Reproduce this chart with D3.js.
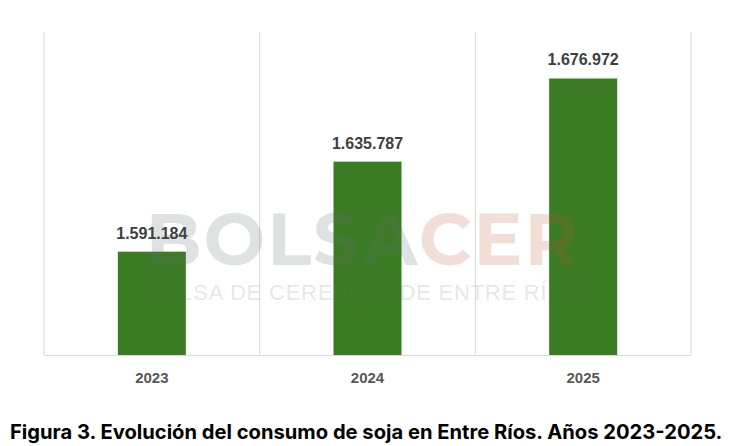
<!DOCTYPE html>
<html>
<head>
<meta charset="utf-8">
<script src="https://cdn.jsdelivr.net/npm/d3@7"></script>
<style>
html,body{margin:0;padding:0;background:#fff;}
svg{display:block;}
</style>
</head>
<body>
<svg id="chart" width="737" height="446"></svg>
<script>
const years = ["2023", "2024", "2025"];
const consumo = [1591184, 1635787, 1676972];
const yDomain = [1540000, 1700000];
const titleText = "Figura 3. Evolución del consumo de soja en Entre Ríos. Años 2023-2025.";

const svg = d3.select("#chart");
const m = {left: 44, right: 46, top: 32, bottom: 91};
const W = 737, H = 446;
const x = d3.scaleBand().domain(years).range([m.left, W - m.right]).paddingInner(0).paddingOuter(0);
const y = d3.scaleLinear().domain(yDomain).range([H - m.bottom, m.top]);
const fmt = v => d3.format(",")(v).replace(/,/g, ".");
const barW = 68;

// vertical gridlines at category boundaries
const bounds = years.map(d => x(d)).concat([x(years[years.length-1]) + x.bandwidth()]);
svg.append("g").selectAll("line").data(bounds).join("line")
  .attr("x1", d => d).attr("x2", d => d)
  .attr("y1", m.top).attr("y2", H - m.bottom)
  .attr("stroke", "#d9d9d9").attr("stroke-width", 1);
// baseline
svg.append("line").attr("x1", m.left).attr("x2", W - m.right)
  .attr("y1", H - m.bottom + 0.5).attr("y2", H - m.bottom + 0.5)
  .attr("stroke", "#d9d9d9").attr("stroke-width", 1);

// bars
svg.append("g").selectAll("rect").data(consumo).join("rect")
  .attr("x", (d, i) => x(years[i]) + x.bandwidth()/2 - barW/2)
  .attr("width", barW)
  .attr("y", d => y(d))
  .attr("height", d => y(yDomain[0]) - y(d))
  .attr("fill", "#3b7b24");

// watermark
const wm = svg.append("g").attr("pointer-events", "none");
const big = wm.append("text").attr("x", 363).attr("y", 265)
  .attr("text-anchor", "middle")
  .attr("font-family", "Montserrat, 'Liberation Sans', Arial, sans-serif")
  .attr("font-weight", "bold").attr("font-size", 73)
  .attr("letter-spacing", 2);
big.append("tspan").text("BOLSA").attr("fill", "#5f7070").attr("fill-opacity", 0.2);
big.append("tspan").text("CER").attr("fill", "#b25b37").attr("fill-opacity", 0.2);
wm.append("text").attr("x", 147).attr("y", 300)
  .attr("font-family", "'Liberation Sans', Arial, sans-serif")
  .attr("font-size", 22)
  .attr("textLength", 433).attr("lengthAdjust", "spacing")
  .attr("fill", "#5f7070").attr("fill-opacity", 0.18)
  .text("BOLSA DE CEREALES DE ENTRE RÍOS");

// value labels
svg.append("g").selectAll("text").data(consumo).join("text")
  .attr("x", (d, i) => x(years[i]) + x.bandwidth()/2)
  .attr("y", d => y(d) - 13)
  .attr("text-anchor", "middle")
  .attr("font-family", "'Liberation Sans', Arial, sans-serif")
  .attr("font-weight", "bold").attr("font-size", 16)
  .attr("fill", "#404040")
  .text(d => fmt(d));

// x axis labels
svg.append("g").selectAll("text").data(years).join("text")
  .attr("x", d => x(d) + x.bandwidth()/2)
  .attr("y", 383)
  .attr("text-anchor", "middle")
  .attr("font-family", "'Liberation Sans', Arial, sans-serif")
  .attr("font-weight", "bold").attr("font-size", 15)
  .attr("fill", "#595959")
  .text(d => d);

// title
const t = svg.append("text").attr("x", 10).attr("y", 439)
  .attr("font-family", "Inter, 'Open Sans', 'Liberation Sans', Arial, sans-serif")
  .attr("font-weight", "bold").attr("font-size", 18)
  .attr("fill", "#000")
  .text(titleText);
const len = t.node().getComputedTextLength();
t.attr("font-size", 18 * 713 / len);
</script>
</body>
</html>
